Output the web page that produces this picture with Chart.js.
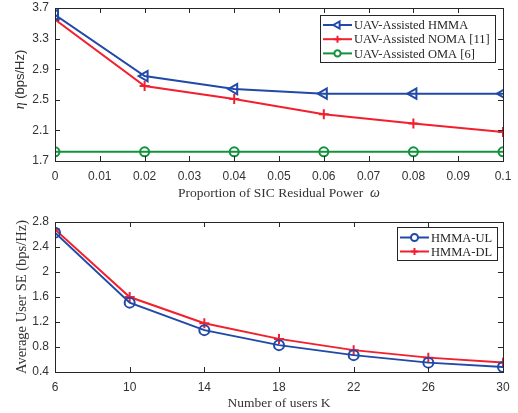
<!DOCTYPE html>
<html>
<head>
<meta charset="utf-8">
<script src="https://cdn.jsdelivr.net/npm/chart.js@4.4.1/dist/chart.umd.min.js"></script>
<style>
  body { margin: 0; background: #fff; }
  #wrap { position: relative; width: 518px; height: 413px; }
  canvas { position: absolute; left: 0; }
  #c1 { top: 0; }
  #c2 { top: 205px; }
</style>
</head>
<body>
<div id="wrap">
  <canvas id="c1" width="518" height="205"></canvas>
  <canvas id="c2" width="518" height="208"></canvas>
</div>
<script>
// top chart: eta vs SIC residual power
const sicX = [0, 0.02, 0.04, 0.06, 0.08, 0.1];
const hmma = [3.61, 2.81, 2.64, 2.58, 2.58, 2.58];
const noma = [3.55, 2.68, 2.51, 2.31, 2.19, 2.08];
const oma = [1.82, 1.82, 1.82, 1.82, 1.82, 1.82];
const sicTicks = [0, 0.01, 0.02, 0.03, 0.04, 0.05, 0.06, 0.07, 0.08, 0.09, 0.1];
const etaTicks = [1.7, 2.1, 2.5, 2.9, 3.3, 3.7];

// bottom chart: average user SE vs number of users
const users = [6, 10, 14, 18, 22, 26, 30];
const hmmaUL = [2.63, 1.51, 1.07, 0.83, 0.67, 0.55, 0.48];
const hmmaDL = [2.68, 1.60, 1.18, 0.93, 0.75, 0.63, 0.55];
const userTicks = [6, 10, 14, 18, 22, 26, 30];
const seTicks = [0.4, 0.8, 1.2, 1.6, 2, 2.4, 2.8];

const BLUE = '#2049a8';
const RED = '#f2202e';
const GREEN = '#12923c';
const AXIS = '#262626';

function pts(xs, ys) {
    return xs.map((x, i) => ({ x: x, y: ys[i] }));
}

function fmt(v) {
    return String(Number(v.toFixed(3)));
}

// matlab style box with inward ticks
const boxPlugin = {
    id: 'box',
    afterDatasetsDraw(chart) {
        const ctx = chart.ctx;
        const a = chart.chartArea;
        const xs = chart.scales.x, ys = chart.scales.y;
        ctx.save();
        ctx.strokeStyle = AXIS;
        ctx.lineWidth = 1;
        ctx.strokeRect(Math.round(a.left) + 0.5, Math.round(a.top) + 0.5,
            Math.round(a.right - a.left), Math.round(a.bottom - a.top));
        ctx.beginPath();
        xs.ticks.forEach(t => {
            const px = Math.round(xs.getPixelForValue(t.value)) + 0.5;
            ctx.moveTo(px, a.bottom); ctx.lineTo(px, a.bottom - 5);
            ctx.moveTo(px, a.top); ctx.lineTo(px, a.top + 5);
        });
        ys.ticks.forEach(t => {
            const py = Math.round(ys.getPixelForValue(t.value)) + 0.5;
            ctx.moveTo(a.left, py); ctx.lineTo(a.left + 5, py);
            ctx.moveTo(a.right, py); ctx.lineTo(a.right - 5, py);
        });
        ctx.stroke();
        ctx.restore();
    },
    afterDraw(chart, args, opts) {
        const ctx = chart.ctx;
        const a = chart.chartArea;
        ctx.save();
        ctx.fillStyle = '#333';
        ctx.textBaseline = 'middle';
        // x title
        drawSegments(ctx, opts.xTitle, (a.left + a.right) / 2, a.bottom + opts.xTitleGap);
        // y title
        ctx.translate(opts.yTitleX, (a.top + a.bottom) / 2 + opts.yTitleShift);
        ctx.rotate(-Math.PI / 2);
        drawSegments(ctx, opts.yTitle, 0, 0);
        ctx.restore();

        // legend
        const lg = opts.legend;
        ctx.save();
        ctx.fillStyle = '#fff';
        ctx.fillRect(lg.left, lg.top, lg.width, lg.height);
        ctx.strokeStyle = AXIS;
        ctx.lineWidth = 1;
        ctx.strokeRect(lg.left + 0.5, lg.top + 0.5, lg.width, lg.height);
        chart.data.datasets.forEach((ds, i) => {
            const y = lg.top + lg.firstRow + i * lg.rowGap;
            const x0 = lg.left + 3, x1 = x0 + lg.lineLen;
            ctx.strokeStyle = ds.borderColor;
            ctx.lineWidth = 2;
            ctx.beginPath();
            ctx.moveTo(x0, y); ctx.lineTo(x1, y);
            ctx.stroke();
            ctx.fillStyle = '#fff';
            Chart.helpers.drawPoint(ctx, {
                pointStyle: ds.pointStyle,
                radius: ds.pointRadius * 0.7,
                rotation: ds.pointRotation || 0,
                borderWidth: 2
            }, (x0 + x1) / 2, y);
            ctx.fillStyle = '#262626';
            ctx.font = '12.5px "Liberation Serif"';
            ctx.textAlign = 'left';
            ctx.textBaseline = 'middle';
            ctx.fillText(ds.label, x1 + 2, y + 1);
        });
        ctx.restore();
    }
};

function drawSegments(ctx, segs, cx, cy) {
    let total = 0;
    segs.forEach(s => { ctx.font = s.font; total += ctx.measureText(s.text).width; });
    let x = cx - total / 2;
    ctx.textAlign = 'left';
    segs.forEach(s => {
        ctx.font = s.font;
        ctx.fillText(s.text, x, cy);
        x += ctx.measureText(s.text).width;
    });
}

function lineSet(label, data, color, style, radius, rotation) {
    return {
        label: label,
        data: data,
        borderColor: color,
        backgroundColor: color,
        borderWidth: 2,
        pointStyle: style,
        pointRadius: radius,
        pointRotation: rotation || 0,
        pointBorderWidth: 2,
        pointBackgroundColor: 'rgba(0,0,0,0)',
        pointBorderColor: color,
        tension: 0
    };
}

function makeScales(xMin, xMax, xTicks, yMin, yMax, yTicks, xHeight) {
    const tickFont = { family: '"Liberation Sans", Arial, sans-serif', size: 12 };
    return {
        x: {
            type: 'linear', min: xMin, max: xMax,
            grid: { display: false, drawTicks: false },
            border: { display: false },
            afterBuildTicks: s => { s.ticks = xTicks.map(v => ({ value: v })); },
            afterFit: s => { s.height = xHeight; s.paddingLeft = 0; s.paddingRight = 0; },
            ticks: { font: tickFont, color: '#333', padding: 8, maxRotation: 0, autoSkip: false, callback: v => fmt(v) }
        },
        y: {
            min: yMin, max: yMax,
            grid: { display: false, drawTicks: false },
            border: { display: false },
            afterBuildTicks: s => { s.ticks = yTicks.map(v => ({ value: v })); },
            afterFit: s => { s.width = 55; s.paddingTop = 0; s.paddingBottom = 0; },
            ticks: { font: tickFont, color: '#333', padding: 6, autoSkip: false, callback: v => fmt(v) }
        }
    };
}

const serif = '13.5px "Liberation Serif", "Times New Roman", serif';
const serifIt = 'italic 14px "Liberation Serif", "Times New Roman", serif';
const sans = '13px "Liberation Sans", Arial, sans-serif';

new Chart(document.getElementById('c1'), {
    type: 'line',
    data: {
        datasets: [
            lineSet('UAV-Assisted HMMA', pts(sicX, hmma), BLUE, 'triangle', 6, -90),
            lineSet('UAV-Assisted NOMA [11]', pts(sicX, noma), RED, 'cross', 5),
            lineSet('UAV-Assisted OMA [6]', pts(sicX, oma), GREEN, 'circle', 4.5)
        ]
    },
    options: {
        responsive: false,
        animation: false,
        layout: { padding: { left: 0, right: 15, top: 8, bottom: 0 } },
        plugins: {
            legend: { display: false },
            tooltip: { enabled: false },
            box: {
                xTitle: [{ text: 'Proportion of SIC Residual Power  ', font: serif }, { text: 'ω', font: serifIt }],
                xTitleGap: 32,
                yTitle: [{ text: 'η', font: serifIt }, { text: ' (bps/Hz)', font: sans }],
                yTitleX: 20,
                yTitleShift: -5,
                legend: { left: 320, top: 15, width: 175, height: 47, firstRow: 10, rowGap: 14.2, lineLen: 29 }
            }
        },
        scales: makeScales(0, 0.1, sicTicks, 1.7, 3.7, etaTicks, 44)
    },
    plugins: [boxPlugin]
});

new Chart(document.getElementById('c2'), {
    type: 'line',
    data: {
        datasets: [
            lineSet('HMMA-UL', pts(users, hmmaUL), BLUE, 'circle', 5),
            lineSet('HMMA-DL', pts(users, hmmaDL), RED, 'cross', 5)
        ]
    },
    options: {
        responsive: false,
        animation: false,
        layout: { padding: { left: 0, right: 15, top: 17, bottom: 0 } },
        plugins: {
            legend: { display: false },
            tooltip: { enabled: false },
            box: {
                xTitle: [{ text: 'Number of users K', font: serif }],
                xTitleGap: 31,
                yTitle: [{ text: 'Average User SE (bps/Hz)', font: '14.5px "Liberation Serif", "Times New Roman", serif' }],
                yTitleX: 22,
                yTitleShift: 0,
                legend: { left: 397, top: 22, width: 100, height: 33, firstRow: 10.5, rowGap: 14, lineLen: 29 }
            }
        },
        scales: makeScales(6, 30, userTicks, 0.4, 2.8, seTicks, 41)
    },
    plugins: [boxPlugin]
});
</script>
</body>
</html>
